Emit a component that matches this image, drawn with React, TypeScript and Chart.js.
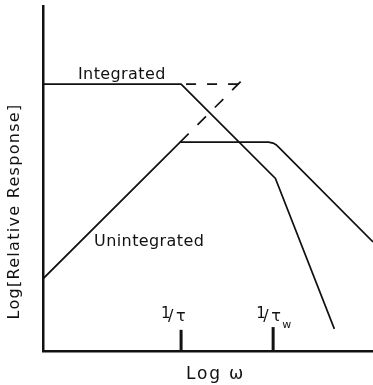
import React, { useEffect, useRef } from "react";
import { Chart, registerables } from "chart.js";

Chart.register(...registerables);

// Frequency axis in log-omega units; response axis in log units.
const X_MAX = 7.17;
const Y_MAX = 7.5;

// Integrated response: flat, then falling, then falling faster
const integratedX = [0, 3.0, 5.05, 6.33];
const integratedY = [5.8, 5.8, 3.75, 0.48];

// Dashed continuation of the integrated plateau
const integratedDashX = [3.0, 4.46];
const integratedDashY = [5.8, 5.8];

// Unintegrated response: rising, plateau, falling
const unintegratedX = [0, 2.98, 4.9, 5.0, 5.07, 5.13, 7.17];
const unintegratedY = [1.57, 4.54, 4.54, 4.52, 4.48, 4.42, 2.37];

// Dashed continuation of the rising slope
const unintegratedDashX = [2.98, 4.35];
const unintegratedDashY = [4.54, 5.91];

// Marked frequencies on the horizontal axis
const tickX = [3, 5];
const tickTop = [0.46, 0.52];
const tickDenominators = ["τ", "τ"];
const tickSubscripts = ["", "w"];

const curveLabels = ["Integrated", "Unintegrated"];
const curveLabelX = [0.76, 1.11];
const curveLabelY = [5.91, 2.28];

const xTitle = "Log ω";
const yTitle = "Log[Relative Response]";

const INK = "#111";
const FONT = "'DejaVu Sans', sans-serif";

const pts = (xs: number[], ys: number[]) => xs.map((x, i) => ({ x, y: ys[i] }));

const annotate = {
  id: "annotate",
  afterDraw(chart: any) {
    const { ctx, chartArea } = chart;
    const xs = chart.scales.x;
    const ys = chart.scales.y;
    ctx.save();
    ctx.fillStyle = INK;
    ctx.textAlign = "left";
    ctx.textBaseline = "alphabetic";

    // curve names
    ctx.font = `16px ${FONT}`;
    ctx.letterSpacing = "0.4px";
    curveLabels.forEach((t, i) => {
      ctx.fillText(t, xs.getPixelForValue(curveLabelX[i]), ys.getPixelForValue(curveLabelY[i]));
    });

    // labels of the marked frequencies, written as 1/τ
    const base = chartArea.bottom;
    tickX.forEach((v, i) => {
      const px = xs.getPixelForValue(v);
      const off = tickSubscripts[i] ? 3 : 0;
      ctx.letterSpacing = "0px";
      ctx.font = `15px ${FONT}`;
      ctx.fillText("1", px - 20 + off, base - 33);
      ctx.font = `16px ${FONT}`;
      ctx.fillText("/", px - 13 + off, base - 30);
      ctx.font = `16px ${FONT}`;
      ctx.fillText(tickDenominators[i], px - 5 + off, base - 30);
      if (tickSubscripts[i]) {
        ctx.font = `11px ${FONT}`;
        ctx.fillText(tickSubscripts[i], px + 9, base - 23);
      }
    });

    // axis titles
    ctx.font = `17px ${FONT}`;
    ctx.letterSpacing = "1.8px";
    ctx.textAlign = "center";
    ctx.fillText(xTitle, xs.getPixelForValue(3.75), base + 28);

    ctx.font = `16px ${FONT}`;
    ctx.letterSpacing = "1.3px";
    ctx.translate(chartArea.left - 24, (chartArea.top + chartArea.bottom) / 2 + 33);
    ctx.rotate(-Math.PI / 2);
    ctx.fillText(yTitle, 0, 0);
    ctx.restore();
  },
};

export default function App() {
  const ref = useRef<HTMLCanvasElement | null>(null);

  useEffect(() => {
    if (!ref.current) return;
    const solid = { borderColor: INK, borderWidth: 1.7, pointRadius: 0, fill: false, tension: 0 };
    const chart = new Chart(ref.current, {
      type: "line",
      data: {
        datasets: [
          { ...solid, data: pts(integratedX, integratedY) },
          { ...solid, data: pts(integratedDashX, integratedDashY), borderDash: [10, 11], borderDashOffset: 16 },
          { ...solid, data: pts(unintegratedX, unintegratedY) },
          { ...solid, data: pts(unintegratedDashX, unintegratedDashY), borderDash: [12, 12.5] },
          ...tickX.map((v, i) => ({
            ...solid,
            borderWidth: 3,
            data: [
              { x: v, y: 0 },
              { x: v, y: tickTop[i] },
            ],
          })),
        ],
      },
      options: {
        animation: false,
        responsive: false,
        events: [],
        layout: { padding: { left: 35, right: 0, top: 6, bottom: 26 } },
        plugins: { legend: { display: false }, tooltip: { enabled: false } },
        scales: {
          x: {
            type: "linear",
            min: 0,
            max: X_MAX,
            grid: { display: false },
            ticks: { display: false },
            border: { display: true, color: INK, width: 2.5 },
          },
          y: {
            type: "linear",
            min: 0,
            max: Y_MAX,
            grid: { display: false },
            ticks: { display: false },
            border: { display: true, color: INK, width: 2.5 },
          },
        },
      },
      plugins: [annotate],
    });
    return () => chart.destroy();
  }, []);

  return (
    <div style={{ position: "absolute", left: 0, top: 0, width: 373, height: 385, background: "#fff" }}>
      <canvas ref={ref} width={373} height={385} />
    </div>
  );
}
